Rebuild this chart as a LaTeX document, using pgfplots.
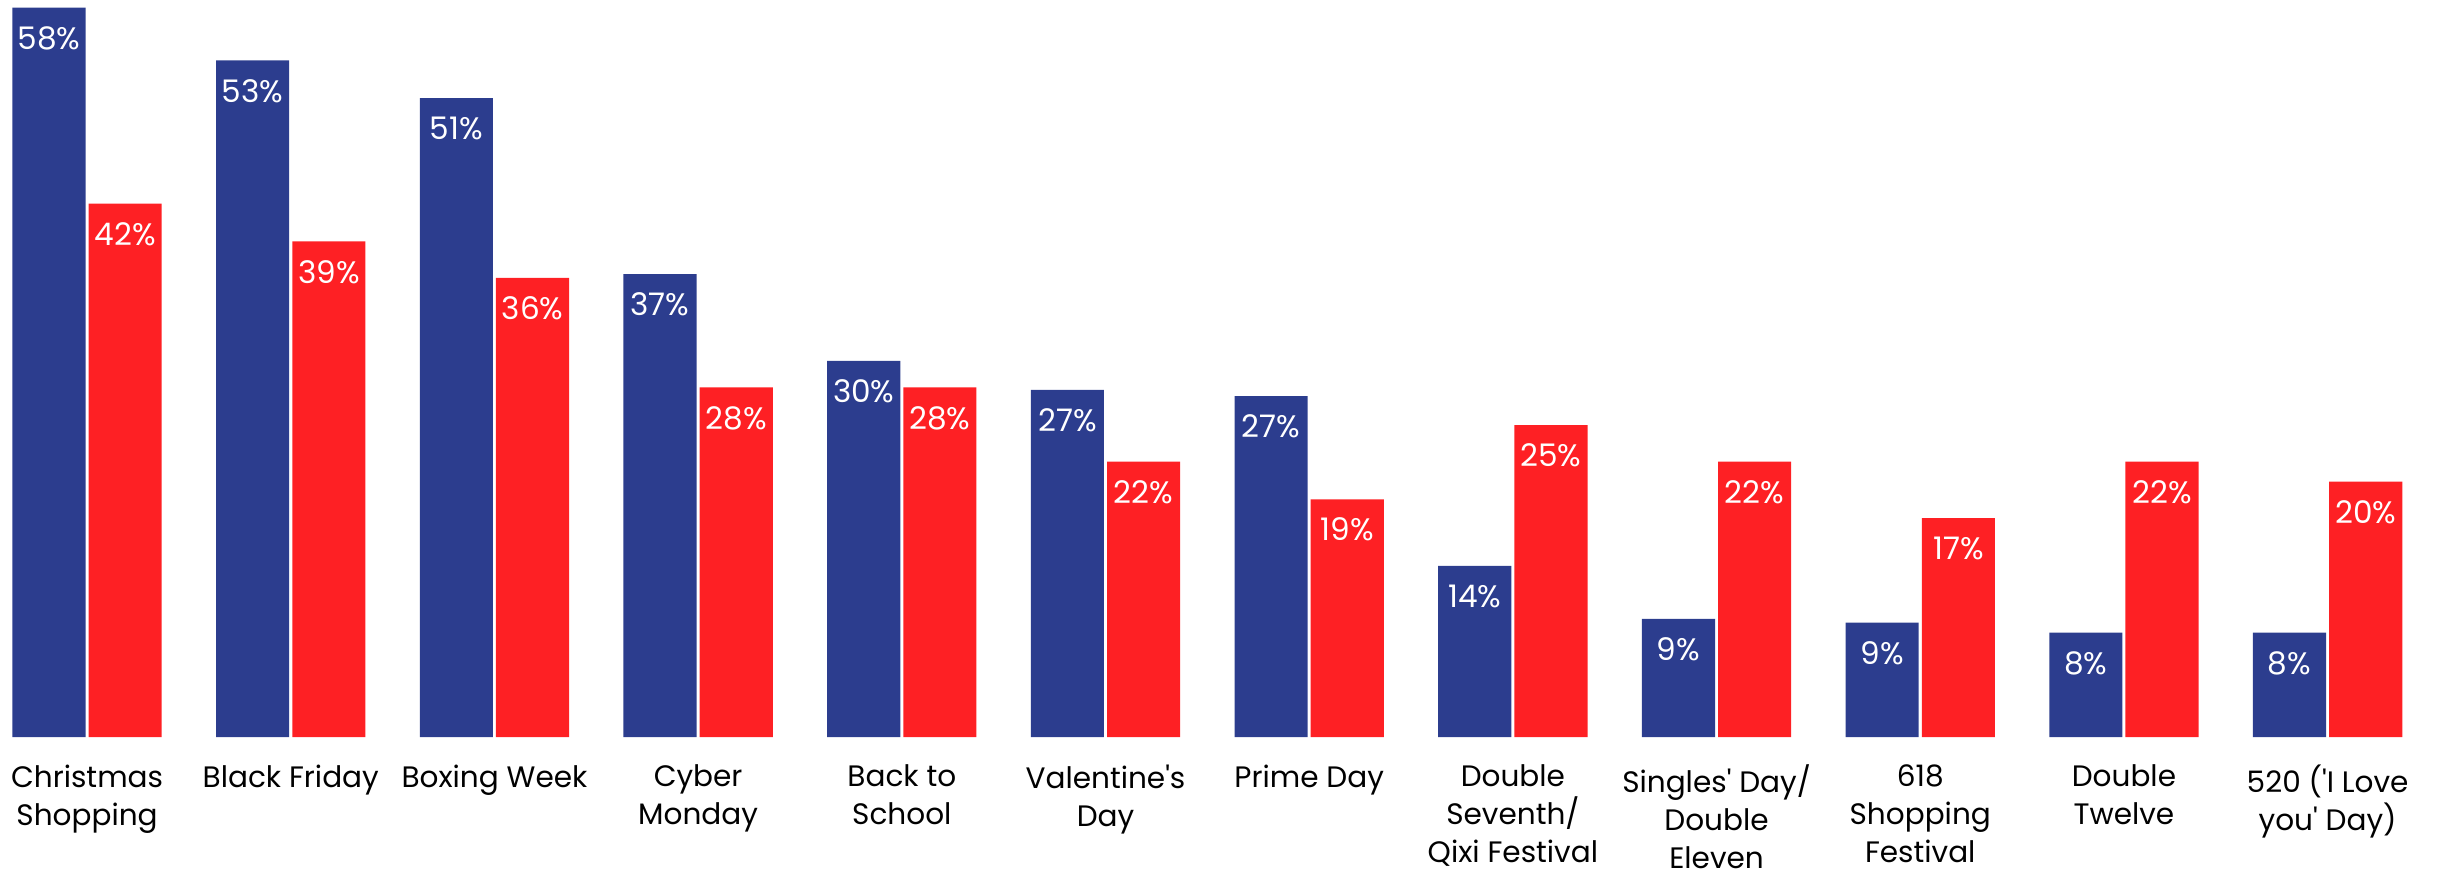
\documentclass[border=0pt]{standalone}
\usepackage{fontspec}
\setmainfont{Poppins}
\usepackage{pgfplots}
\usepackage{pgfplotstable}
\pgfplotsset{compat=1.18}
\definecolor{cblue}{RGB}{44,61,142}
\definecolor{cred}{RGB}{254,32,36}
\newcommand{\q}{\textquotesingle}
\pgfplotstableread{
x val lab
0 58.0 58\%
1 53.8 53\%
2 50.8 51\%
3 36.8 37\%
4 29.9 30\%
5 27.6 27\%
6 27.1 27\%
7 13.6 14\%
8 9.4 9\%
9 9.1 9\%
10 8.3 8\%
11 8.3 8\%
}\blue
\pgfplotstableread{
x val lab
0 42.4 42\%
1 39.4 39\%
2 36.5 36\%
3 27.8 28\%
4 27.8 28\%
5 21.9 22\%
6 18.9 19\%
7 24.8 25\%
8 21.9 22\%
9 17.4 17\%
10 21.9 22\%
11 20.3 20\%
}\red
\begin{document}
\begin{tikzpicture}
\useasboundingbox (0,-44.5pt) rectangle (784pt,237pt);
\begin{axis}[
  anchor=south west, at={(0,0)},
  scale only axis, width=784pt, height=237pt,
  xmin=-0.4275, xmax=11.542, ymin=0, ymax=58.6,
  axis line style={draw=none},
  ytick=\empty,
  ybar, bar width=0.359,
  xtick={0,...,11},
  xticklabels={Christmas\\Shopping, Black Friday, Boxing Week, Cyber\\Monday, Back to\\School, Valentine\q s\\Day, Prime Day, Double\\Seventh/\\Qixi Festival, Singles\q{} Day/\\Double\\Eleven, 618\\Shopping\\Festival, Double\\Twelve, 520 (\q I Love\\you\q{} Day)},
  xticklabel style={align=center, font=\fontsize{9.5}{12.2}\selectfont, anchor=north, yshift=-5.5pt},
  major tick length=0pt,
  nodes near coords,
  point meta=explicit symbolic,
  nodes near coords style={font=\fontsize{10}{12}\selectfont, text=white, anchor=north, yshift=-2.5pt},
  clip=false,
]
\addplot[fill=cblue, draw=none, bar shift=-0.187] table[x=x, y=val, meta=lab] {\blue};
\addplot[fill=cred, draw=none, bar shift=0.187] table[x=x, y=val, meta=lab] {\red};
\end{axis}
\end{tikzpicture}
\end{document}
